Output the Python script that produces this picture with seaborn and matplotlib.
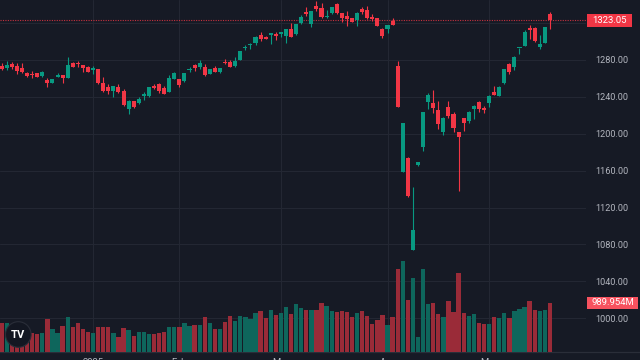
import matplotlib
matplotlib.use('Agg')
import matplotlib.pyplot as plt
import matplotlib.transforms as mtransforms
import numpy as np
import pandas as pd
import seaborn as sns
from matplotlib.lines import Line2D
from matplotlib.patches import Circle, Rectangle

BG = '#161a25'
UP = '#089981'
DOWN = '#f23645'
UP_VOL = '#0e665c'
DOWN_VOL = '#9a2b38'
GRID = '#232733'
TEXT = '#b2b5be'

# daily candles, oldest first
opens = [1273, 1271, 1275.3, 1273.8, 1271.6, 1265.5, 1264.8, 1265.5, 1262.6, 1258.3,
         1255.4, 1261.9, 1263.4, 1260.1, 1276.4, 1277, 1274.5, 1272.7, 1269.1, 1269.9,
         1255, 1250.4, 1246.7, 1251, 1246, 1226.8, 1235.2, 1233.7, 1241.3, 1240.9,
         1251.8, 1253.6, 1249.3, 1245.6, 1259.7, 1259, 1257.2, 1268.8, 1274.5, 1272,
         1272.7, 1265.1, 1271, 1266.6, 1278.1, 1278.1, 1273.5, 1280, 1292.6, 1295.9,
         1298, 1307.1, 1305.2, 1307.4, 1308.1, 1307.8, 1306.3, 1313.6, 1307.8, 1319.7,
         1332, 1319, 1338.5, 1336, 1326.2, 1330.6, 1340.7, 1330.6, 1328, 1325.2,
         1323.3, 1335.2, 1334.2, 1326.2, 1325.2, 1313.6, 1313.2, 1322.2, 1273.8, 1158.9,
         1174.1, 1074, 1165.8, 1186, 1234.8, 1233.7, 1225.8, 1201.6, 1229.3, 1221.4,
         1201.6, 1216.8, 1214.2, 1226.8, 1234.8, 1227.6, 1233.7, 1244.9, 1241.3, 1254.7,
         1275.3, 1272.7, 1292.6, 1295.5, 1314.3, 1315, 1293.7, 1298.7, 1329.8]
highs = [1277, 1279, 1277.5, 1277, 1276.4, 1267.3, 1268, 1266.2, 1267.5, 1260.1,
         1259.7, 1265.9, 1264, 1283.5, 1278.1, 1279, 1274.5, 1273, 1273.8, 1270.5,
         1261.2, 1253.6, 1252, 1253.6, 1248.2, 1236.6, 1235.8, 1240.2, 1245.6, 1250.6,
         1253.6, 1255, 1251.8, 1263.7, 1266.5, 1259.2, 1265.7, 1272.7, 1275.6, 1280,
         1275.3, 1270.2, 1273.5, 1271.5, 1281, 1280, 1283.5, 1290, 1296.2, 1298,
         1306, 1310.3, 1306.3, 1309, 1310, 1310.6, 1313.4, 1320.4, 1319, 1328.7,
         1337.1, 1333.3, 1343.9, 1341.4, 1334.2, 1337.6, 1342.1, 1331.2, 1333.1, 1326,
         1331.5, 1337.7, 1338.8, 1329.8, 1325.8, 1314.3, 1318.2, 1325.2, 1279, 1212,
         1175.2, 1142.6, 1169.5, 1223.5, 1243.9, 1247.4, 1235, 1217.7, 1235.5, 1223.9,
         1202, 1217, 1224.7, 1231.2, 1235, 1230.1, 1241.5, 1251.8, 1251.3, 1270.5,
         1276.4, 1283.8, 1293.5, 1312.5, 1317.9, 1315.3, 1307.1, 1315.7, 1331.7]
lows = [1269, 1269, 1270.2, 1264.8, 1266.2, 1261.2, 1260.1, 1261.2, 1262, 1250.4,
        1254.7, 1261.2, 1255.4, 1260, 1272.4, 1272.7, 1267.3, 1267, 1264.8, 1254,
        1245.6, 1243.1, 1240.2, 1243.9, 1230.4, 1221.8, 1227.6, 1231.9, 1236.6, 1240.2,
        1248.2, 1243.9, 1242.8, 1245.3, 1259.5, 1250.4, 1256.1, 1267.3, 1268.4, 1269.9,
        1262.6, 1264.8, 1267, 1266, 1275.3, 1272.5, 1272.7, 1279.5, 1290.8, 1292.2,
        1296.2, 1300.6, 1302.4, 1297.3, 1301.6, 1305.2, 1298, 1304.6, 1307.5, 1319,
        1327.7, 1316, 1333.4, 1325.2, 1325.5, 1330.3, 1329.8, 1321.5, 1317.1, 1321,
        1317.1, 1329.8, 1324.4, 1322.6, 1316.5, 1304.1, 1308.9, 1317.6, 1229, 1158,
        1131.8, 1073.5, 1165.5, 1181.6, 1226.8, 1222.2, 1204.8, 1198.7, 1217.4, 1202.2,
        1138.3, 1203.3, 1211.3, 1216, 1223.3, 1222.8, 1229.3, 1241.8, 1241, 1254.4,
        1264.8, 1269.1, 1286.5, 1295, 1302.4, 1299.8, 1291.9, 1298.4, 1313.6]
closes = [1270.5, 1274.5, 1272, 1268.4, 1267, 1263, 1263.4, 1261.9, 1267, 1254.7,
          1259, 1264, 1260.1, 1274.5, 1272.7, 1275.3, 1271.6, 1267.3, 1271.3, 1254.7,
          1246.7, 1246.7, 1251.8, 1245.6, 1230.9, 1235.8, 1229.3, 1237.7, 1242.8, 1250.4,
          1249.6, 1246.4, 1243.1, 1260.1, 1266.2, 1253.2, 1265.5, 1270.5, 1271, 1276.4,
          1263.4, 1269.9, 1267.3, 1271, 1276.4, 1272.7, 1279, 1289.7, 1293.7, 1297.6,
          1305.2, 1302.7, 1303, 1308.9, 1306, 1310, 1313.2, 1305.2, 1318.7, 1326.2,
          1329.5, 1333.1, 1334.9, 1326.9, 1328, 1337.4, 1330.6, 1325.2, 1324.1, 1321.5,
          1331.2, 1331.7, 1325.8, 1324.1, 1317.1, 1306.3, 1317.9, 1317.9, 1229.3, 1211.3,
          1132.9, 1095.7, 1169.1, 1223.3, 1242, 1227.6, 1210.3, 1217.4, 1219.6, 1206.6,
          1196.8, 1211.3, 1223.9, 1230.1, 1226.8, 1225.8, 1241.3, 1242, 1251, 1270.2,
          1266.6, 1283.5, 1293.3, 1310.6, 1312.5, 1300.9, 1297, 1315.4, 1323.05]
# volume in millions
volumes = [592, 592, 520, 470, 430, 390, 377, 357, 391, 660,
           458, 391, 532, 714, 498, 592, 458, 411, 377, 512,
           512, 512, 377, 296, 485, 438, 323, 404, 404, 357,
           357, 391, 404, 498, 512, 512, 592, 532, 545, 545,
           714, 579, 465, 465, 606, 727, 626, 727, 707, 667,
           788, 828, 693, 842, 747, 788, 915, 768, 963, 882,
           855, 842, 842, 983, 929, 828, 815, 828, 808, 714,
           788, 828, 727, 566, 646, 747, 545, 700, 1677, 1838,
           1050, 1495, 296, 1670, 970, 996, 768, 700, 1030, 815,
           1589, 781, 727, 774, 579, 559, 559, 714, 693, 781,
           687, 828, 869, 902, 1030, 842, 828, 855, 989.954]

month_starts = [18, 35, 55, 76, 96]
month_labels = ['2025', 'Feb', 'Mar', 'Apr', 'May']
price_ticks = [1000, 1040, 1080, 1120, 1160, 1200, 1240, 1280, 1320]

W_PX, H_PX = 640, 360
AX_W_PX, AX_H_PX = 586, 352


def value_tag(ax, value, label, color, x0_px, x1_px, h_px=12.7):
    y0, y1 = ax.get_ylim()
    dy = h_px * (y1 - y0) / AX_H_PX
    trans = mtransforms.blended_transform_factory(ax.transAxes, ax.transData)
    ax.add_patch(Rectangle((x0_px / AX_W_PX, value - dy / 2), (x1_px - x0_px) / AX_W_PX, dy,
                           transform=trans, facecolor=color, edgecolor='none', clip_on=False, zorder=5))
    ax.text((x0_px + x1_px) / 2 / AX_W_PX, value, label, transform=trans, ha='center', va='center',
            color='white', fontsize=6.8, clip_on=False, zorder=6)


def main():
    sns.set_theme(style='dark', rc={'axes.facecolor': BG, 'figure.facecolor': BG})
    plt.rcParams['font.family'] = ['Roboto', 'DejaVu Sans']

    df = pd.DataFrame({'open': opens, 'high': highs, 'low': lows, 'close': closes, 'volume': volumes})
    df['idx'] = np.arange(len(df))
    df['dir'] = np.where(df['close'] >= df['open'], 'up', 'down')

    fig = plt.figure(figsize=(W_PX / 100, H_PX / 100), dpi=100, facecolor=BG)
    ax_vol = fig.add_axes([0, 1 - AX_H_PX / H_PX, AX_W_PX / W_PX, AX_H_PX / H_PX])

    sns.barplot(data=df, x='idx', y='volume', hue='dir', palette={'up': UP_VOL, 'down': DOWN_VOL},
                width=0.85, saturation=1, errorbar=None, legend=False, dodge=False,
                edgecolor='none', linewidth=0, ax=ax_vol)
    ax_vol.set_ylim(0, 7110)
    ax_vol.set_yticks([])
    ax_vol.set(xlabel=None, ylabel=None)

    ax_price = ax_vol.twinx()
    ax_price.set_zorder(1)
    ax_vol.set_zorder(2)
    ax_vol.patch.set_visible(False)

    colors = np.where(df['dir'] == 'up', UP, DOWN)
    body_lo = df[['open', 'close']].min(axis=1)
    body_h = np.maximum((df['close'] - df['open']).abs(), 1.0)
    ax_price.vlines(df['idx'], df['low'], df['high'], colors=colors, linewidth=0.8, zorder=2)
    ax_price.bar(df['idx'], body_h, bottom=body_lo, width=0.8, color=colors, linewidth=0, zorder=3)

    ax_price.set_ylim(963.4, 1345)
    ax_price.set_yticks(price_ticks)
    ax_price.set_yticklabels([f'{t:.2f}' if t < 1320 else '' for t in price_ticks])
    ax_price.tick_params(axis='y', length=0, pad=6.5, labelsize=6.6, labelcolor=TEXT)
    ax_price.grid(axis='y', color=GRID, linewidth=0.8)
    ax_price.set_axisbelow(True)
    for m in month_starts:
        ax_price.axvline(m, color=GRID, linewidth=0.8, zorder=0.5)
    ax_price.axhline(closes[-1], color=DOWN, linewidth=0.8, linestyle=(0, (1, 1.2)), alpha=0.8, zorder=1)

    # time labels sit at the very bottom edge, mostly cut off as in the source screenshot
    ax_vol.set_xticks(month_starts, month_labels)
    ax_vol.tick_params(axis='x', length=0, pad=4.2, labelsize=6.8, labelcolor=TEXT)
    ax_vol.set_xlim(-0.335, 115.1)

    for a in (ax_vol, ax_price):
        sns.despine(ax=a, top=True, right=True, left=True, bottom=True)

    value_tag(ax_price, closes[-1], f'{closes[-1]:.2f}', DOWN, 587, 632)
    value_tag(ax_vol, volumes[-1], f'{volumes[-1]:.3f}M', '#f7525f', 587, 638)

    fig.add_artist(Line2D([0, 1], [8.5 / H_PX, 8.5 / H_PX], transform=fig.transFigure,
                          color='#2a2e39', linewidth=0.9))

    # TradingView badge
    fig.add_artist(Circle((0.183, 0.255), 0.128, transform=fig.dpi_scale_trans,
                          facecolor='#131722', edgecolor='#2a2e39', linewidth=0.8, zorder=10))
    fig.text(0.183, 0.255, 'TV', transform=fig.dpi_scale_trans, ha='center', va='center',
             color='white', fontsize=8, fontweight='bold', zorder=11)

    fig.savefig('out.png', dpi=100, facecolor=BG)


if __name__ == '__main__':
    main()
